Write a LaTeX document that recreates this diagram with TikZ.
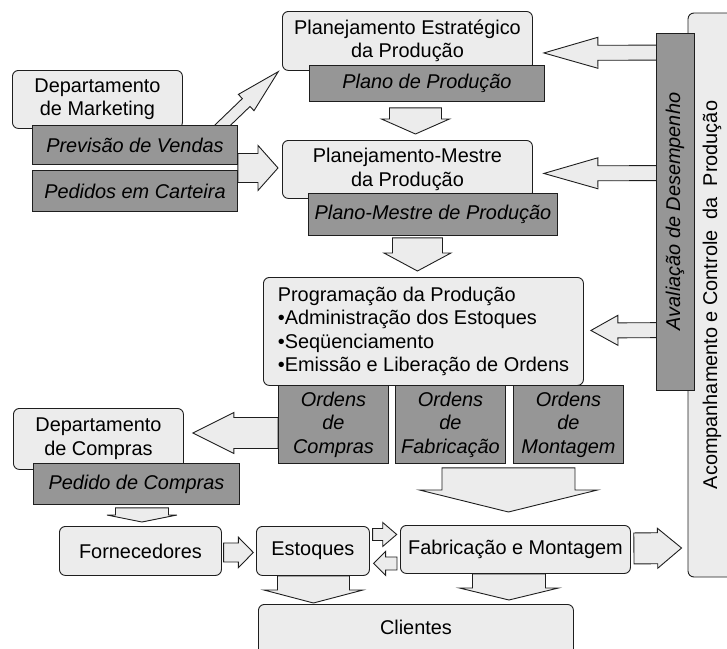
\documentclass[tikz,border=0pt]{standalone}
\usepackage{fontspec}
\setmainfont{Liberation Sans}
\usetikzlibrary{calc,backgrounds}
\definecolor{lightc}{RGB}{236,236,236}
\definecolor{darkc}{RGB}{150,150,150}
\definecolor{linec}{RGB}{30,30,30}
\newcommand{\dfont}{\fontsize{19.9}{23.5}\selectfont}
\newcommand{\blkarrow}[5]{%
  \coordinate (hb) at ($(#2)!#5!(#1)$);
  \draw[blk] ($(#1)!#3!90:(#2)$) -- ($(hb)!#3!90:(#2)$) -- ($(hb)!#4!90:(#2)$) -- (#2) -- ($(hb)!#4!-90:(#2)$) -- ($(hb)!#3!-90:(#2)$) -- ($(#1)!#3!-90:(#2)$) -- cycle;}
\tikzset{
  lbox/.style={draw=linec, fill=lightc, rounded corners=6pt, line width=0.9pt, inner sep=0pt, anchor=north west, align=center, font=\dfont},
  dbox/.style={draw=linec, fill=darkc, line width=0.9pt, inner sep=0pt, anchor=north west, align=center, font=\dfont\itshape},
  blk/.style={draw=linec, fill=lightc, line width=0.9pt, line join=miter}
}
\begin{document}
\begin{tikzpicture}[x=1pt,y=-1pt]
\useasboundingbox (0,0) rectangle (727,648);
\clip (0,0) rectangle (727,648);
% right side
\node[lbox, anchor=center, rotate=90, minimum width=564pt, minimum height=48pt] (acc) at (712,295) {Acompanhamento e Controle\ \ da\ \ Produção};
\node[dbox, anchor=center, rotate=90, minimum width=357pt, minimum height=38pt] (av) at (675,211.5) {Avaliação de Desempenho};
% top
\node[lbox, minimum width=250pt, minimum height=59pt] (pe) at (282,11) {Planejamento Estratégico\\da Produção};
\node[dbox, minimum width=235pt, minimum height=36pt] (plano) at (309,65) {Plano de Produção};
\node[lbox, minimum width=250pt, minimum height=58pt] (pm) at (282,140) {Planejamento-Mestre\\da Produção};
\node[dbox, minimum width=249pt, minimum height=42pt] (pmp) at (308,193) {Plano-Mestre de Produção};
\node[lbox, minimum width=320pt, minimum height=108pt, align=left] (prog) at (263,277) {Programação da Produção\\•Administração dos Estoques\\•Seqüenciamento\\•Emissão e Liberação de Ordens};
\node[dbox, minimum width=110pt, minimum height=78pt] (oc) at (278,385) {Ordens\\de\\Compras};
\node[dbox, minimum width=110pt, minimum height=78pt] (of) at (395,385) {Ordens\\de\\Fabricação};
\node[dbox, minimum width=110pt, minimum height=78pt] (om) at (513,385) {Ordens\\de\\Montagem};
% left
\node[lbox, minimum width=170pt, minimum height=58pt] (dm) at (12,70) {Departamento\\de Marketing};
\node[dbox, minimum width=205pt, minimum height=39pt] (pv) at (32,125) {Previsão de Vendas};
\node[dbox, minimum width=205pt, minimum height=41pt] (pc) at (32,170) {Pedidos em Carteira};
\node[lbox, minimum width=170pt, minimum height=61pt] (dc) at (13,408) {Departamento\\de Compras};
\node[dbox, minimum width=206pt, minimum height=41pt] (pdc) at (33,463) {Pedido de Compras};
% bottom
\node[lbox, minimum width=162pt, minimum height=49pt] (forn) at (59,526) {Fornecedores};
\node[lbox, minimum width=113pt, minimum height=49pt] (est) at (256,526) {Estoques};
\node[lbox, minimum width=230pt, minimum height=48pt] (fab) at (400,525) {Fabricação e Montagem};
\node[lbox, minimum width=315pt, minimum height=60pt] (cli) at (258,604) {};
\node[font=\dfont, inner sep=0pt] (clit) at ($(cli.north)+(0,23)$) {Clientes};
% arrow ends
\coordinate (a1s) at ($(plano.south)+(-11.5,6)$);
\coordinate (a1e) at ($(pm.north)+(8,-6)$);
\coordinate (a2s) at ($(pmp.south)+(-15.5,2)$);
\coordinate (a2e) at ($(prog.north)+(-6,-6)$);
\coordinate (a3s) at ($(av.south)+(0,-159)$);
\coordinate (a3e) at ($(pe.east)+(11,12)$);
\coordinate (a4s) at ($(av.south)+(0,-38.5)$);
\coordinate (a4e) at ($(pm.east)+(11,4)$);
\coordinate (a5s) at ($(av.south)+(0,118.5)$);
\coordinate (a5e) at ($(prog.east)+(7,-1)$);
\coordinate (a6s) at ($(pv.north)+(77.5,10)$);
\coordinate (a6e) at ($(pe.south west)+(-3.7,0.7)$);
\coordinate (a7s) at ($(pv.east)+(0,23)$);
\coordinate (a7e) at ($(pm.west)+(-4,-1.5)$);
\coordinate (a8s) at ($(oc.west)+(0,8.5)$);
\coordinate (a8e) at ($(dc.east)+(9,-6)$);
\coordinate (a9s) at ($(pdc.south)+(5.5,3)$);
\coordinate (a9e) at ($(forn.north)+(1.5,-4)$);
\coordinate (a10s) at ($(forn.east)+(1.7,1.5)$);
\coordinate (a10e) at ($(est.west)+(-2.7,1.5)$);
\coordinate (a11s) at ($(est.east)+(2.7,-16.5)$);
\coordinate (a11e) at ($(fab.west)+(-3.3,-15)$);
\coordinate (a12s) at ($(fab.west)+(-3,14)$);
\coordinate (a12e) at ($(est.east)+(3.7,12.5)$);
\coordinate (a13s) at ($(of.south)+(58,4)$);
\coordinate (a13e) at ($(fab.north)+(-7,-13)$);
\coordinate (a14s) at ($(est.south)+(0.5,0)$);
\coordinate (a14e) at ($(cli.north)+(-102.5,-1)$);
\coordinate (a15s) at ($(fab.south)+(-6.5,0)$);
\coordinate (a15e) at ($(cli.north)+(93,-4)$);
\coordinate (a16s) at ($(fab.east)+(3,-1)$);
\coordinate (a16e) at ($(acc.north)+(-6,253)$);
\begin{scope}[on background layer]
\blkarrow{a1s}{a1e}{26pt}{34pt}{15pt}
\blkarrow{a2s}{a2e}{25pt}{33.5pt}{18pt}
\blkarrow{a3s}{a3e}{7.5pt}{15.5pt}{54pt}
\blkarrow{a4s}{a4e}{7.5pt}{15.5pt}{54pt}
\blkarrow{a5s}{a5e}{7.5pt}{15pt}{27pt}
\blkarrow{a6s}{a6e}{5.5pt}{11.3pt}{44.6pt}
\blkarrow{a7s}{a7e}{14.5pt}{22.5pt}{20pt}
\blkarrow{a8s}{a8e}{15.5pt}{20.5pt}{41pt}
\blkarrow{a9s}{a9e}{26.5pt}{35pt}{7pt}
\blkarrow{a10s}{a10e}{9.5pt}{15.3pt}{15pt}
\blkarrow{a11s}{a11e}{6pt}{12pt}{14pt}
\blkarrow{a12s}{a12e}{6.5pt}{12pt}{12pt}
\blkarrow{a13s}{a13e}{66.5pt}{89pt}{22pt}
\blkarrow{a14s}{a14e}{36pt}{49.5pt}{13pt}
\blkarrow{a15s}{a15e}{36.5pt}{49.5pt}{12pt}
\blkarrow{a16s}{a16e}{15.5pt}{20pt}{24pt}
\end{scope}
\end{tikzpicture}
\end{document}
